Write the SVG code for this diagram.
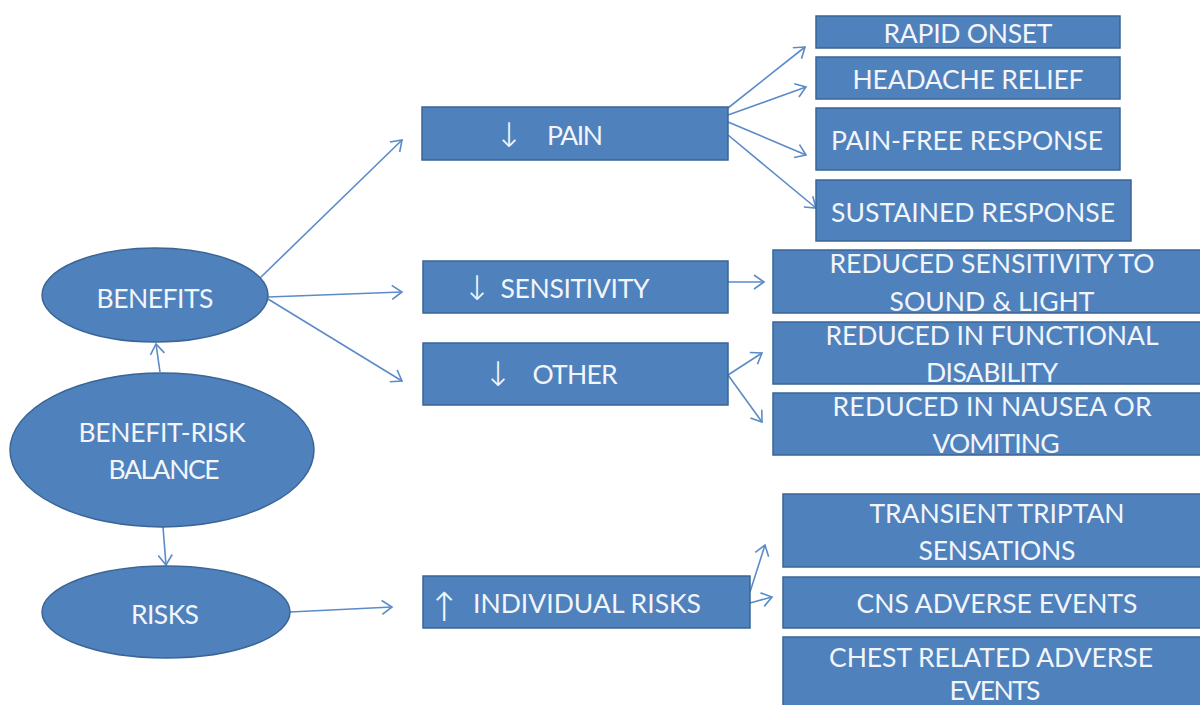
<svg xmlns="http://www.w3.org/2000/svg" width="1200" height="705" viewBox="0 0 1200 705">
<style>
.n{fill:#4F81BD;stroke:#3A6596;stroke-width:1.5}
.t{font-family:Lato,"Liberation Sans",sans-serif;font-size:26.5px;fill:#F2F5FA;text-anchor:middle}
.a{font-family:"DejaVu Sans",sans-serif;font-size:34px;font-weight:200;fill:#F2F5FA;text-anchor:middle}
.c{stroke:#5B8BC8;stroke-width:1.6;fill:none;marker-end:url(#ah)}
</style>
<defs>
<marker id="ah" markerUnits="userSpaceOnUse" markerWidth="14" markerHeight="16" refX="11" refY="8" orient="auto" viewBox="0 0 14 16">
<path d="M1,1 L11,8 L1,15" fill="none" stroke="#5B8BC8" stroke-width="1.6"/>
</marker>
</defs>
<rect width="1200" height="705" fill="#FFFFFF"/>
<g id="connectors">
<line class="c" x1="160" y1="372" x2="156" y2="344"/>
<line class="c" x1="163" y1="527" x2="166" y2="565"/>
<line class="c" x1="260" y1="278" x2="402" y2="140"/>
<line class="c" x1="268" y1="297" x2="402" y2="292"/>
<line class="c" x1="268" y1="299" x2="402" y2="381"/>
<line class="c" x1="290" y1="612" x2="392" y2="607"/>
<line class="c" x1="728" y1="108" x2="805" y2="47"/>
<line class="c" x1="728" y1="115" x2="806" y2="87"/>
<line class="c" x1="728" y1="122" x2="806" y2="155"/>
<line class="c" x1="728" y1="135" x2="816" y2="208"/>
<line class="c" x1="728" y1="282" x2="764" y2="282"/>
<line class="c" x1="728" y1="375" x2="762" y2="353"/>
<line class="c" x1="728" y1="375" x2="762" y2="422"/>
<line class="c" x1="750" y1="592" x2="765" y2="545"/>
<line class="c" x1="750" y1="603" x2="772" y2="597"/>
</g>
<g id="benefits"><ellipse class="n" cx="155" cy="295" rx="113" ry="47"/><text class="t" x="155" y="308" textLength="117">BENEFITS</text></g>
<g id="balance"><ellipse class="n" cx="162" cy="450" rx="152" ry="77"/><text class="t" x="162" y="442" textLength="167">BENEFIT-RISK</text><text class="t" x="164" y="479" textLength="111">BALANCE</text></g>
<g id="risks"><ellipse class="n" cx="166" cy="612" rx="124" ry="46"/><text class="t" x="165" y="624" textLength="68">RISKS</text></g>
<g id="pain"><rect class="n" x="422" y="107" width="306" height="53"/><text class="a" x="509" y="147">↓</text><text class="t" x="575" y="145" textLength="56">PAIN</text></g>
<g id="sensitivity"><rect class="n" x="423" y="261" width="305" height="52"/><text class="a" x="477" y="300">↓</text><text class="t" x="575" y="298" textLength="149">SENSITIVITY</text></g>
<g id="other"><rect class="n" x="423" y="343" width="305" height="62"/><text class="a" x="498" y="386">↓</text><text class="t" x="575" y="384" textLength="85">OTHER</text></g>
<g id="individual-risks"><rect class="n" x="423" y="576" width="327" height="52"/><text class="a" x="444" y="621" style="font-size:40px">↑</text><text class="t" x="587" y="613" textLength="228">INDIVIDUAL RISKS</text></g>
<g id="rapid-onset"><rect class="n" x="816" y="16" width="304" height="32"/><text class="t" x="968" y="43" textLength="169">RAPID ONSET</text></g>
<g id="headache-relief"><rect class="n" x="816" y="57" width="304" height="42"/><text class="t" x="968" y="89" textLength="231">HEADACHE RELIEF</text></g>
<g id="pain-free"><rect class="n" x="816" y="108" width="304" height="62"/><text class="t" x="967" y="150" textLength="272">PAIN-FREE RESPONSE</text></g>
<g id="sustained"><rect class="n" x="816" y="180" width="315" height="61"/><text class="t" x="973" y="222" textLength="284">SUSTAINED RESPONSE</text></g>
<g id="reduced-sensitivity"><rect class="n" x="773" y="250" width="440" height="63"/><text class="t" x="992" y="273" textLength="325">REDUCED SENSITIVITY TO</text><text class="t" x="992" y="311" textLength="205">SOUND &amp; LIGHT</text></g>
<g id="functional"><rect class="n" x="773" y="322" width="440" height="62"/><text class="t" x="992" y="345" textLength="333">REDUCED IN FUNCTIONAL</text><text class="t" x="992" y="382" textLength="132">DISABILITY</text></g>
<g id="nausea"><rect class="n" x="773" y="393" width="440" height="62"/><text class="t" x="992" y="416" textLength="319">REDUCED IN NAUSEA OR</text><text class="t" x="996" y="453" textLength="127">VOMITING</text></g>
<g id="transient"><rect class="n" x="783" y="494" width="430" height="73"/><text class="t" x="997" y="523" textLength="255">TRANSIENT TRIPTAN</text><text class="t" x="997" y="560" textLength="157">SENSATIONS</text></g>
<g id="cns"><rect class="n" x="783" y="577" width="430" height="51"/><text class="t" x="997" y="613" textLength="281">CNS ADVERSE EVENTS</text></g>
<g id="chest"><rect class="n" x="783" y="637" width="430" height="80"/><text class="t" x="991" y="667" textLength="324">CHEST RELATED ADVERSE</text><text class="t" x="995" y="700" textLength="91">EVENTS</text></g>
</svg>
